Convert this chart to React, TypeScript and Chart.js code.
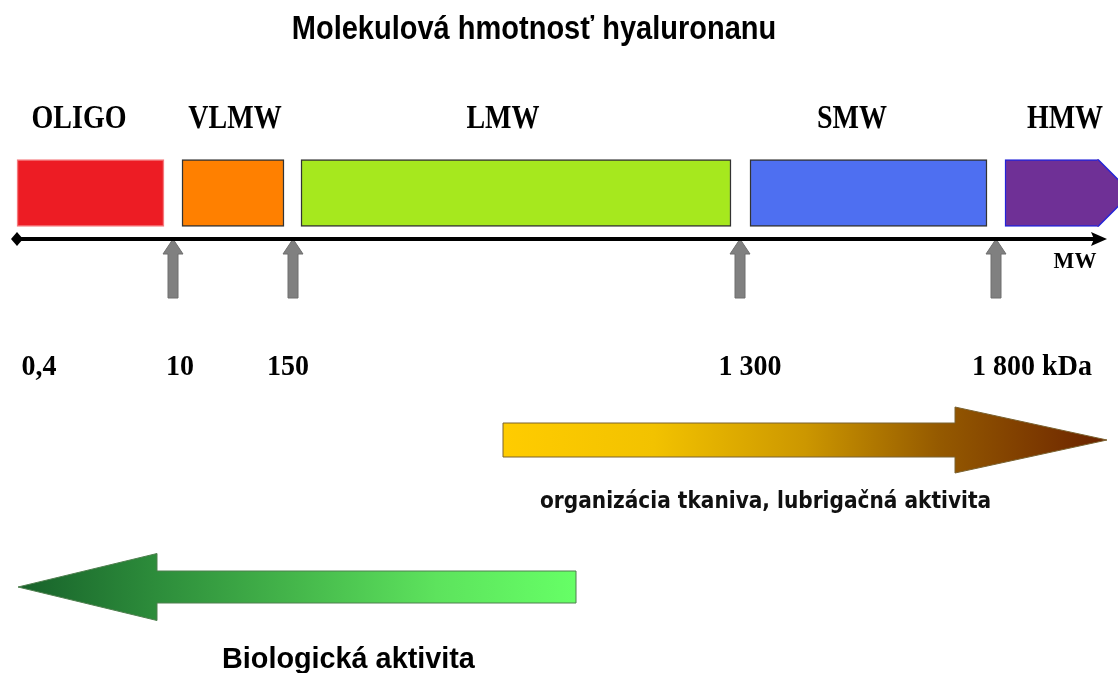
import React, { useEffect, useRef } from 'react';
import { Chart, registerables } from 'chart.js';

Chart.register(...registerables);

// ---- data ----
const TITLE = 'Molekulová hmotnosť hyaluronanu';
const classes = ['OLIGO', 'VLMW', 'LMW', 'SMW', 'HMW'];
const classStart = [17, 182, 301, 750, 1005];
const classEnd = [164, 284, 731, 987, 1098];
const classLabelAt = [79, 235, 503, 852, 1065];
const boundaries = [17, 173, 293, 740, 996];
const boundaryLabels = ['0,4', '10', '150', '1 300', '1 800 kDa'];
const boundaryLabelAt = [39, 180, 288, 750, 1032];
const AXIS_LABEL = 'MW';
const trendLabels = ['organizácia tkaniva, lubrigačná aktivita', 'Biologická aktivita'];
const trendFrom = [503, 576];
const trendTo = [1107, 18];
const trendHeadLen = [152, 139];
const trendRow = [440, 587];
const trendLabelAt = [540, 222];
const trendLabelRow = [508, 668];

// ---- layout / style ----
const W = 1118;
const H = 673;
const BAR_ROW = 193;
const AXIS_ROW = 239;
const classColors = ['#ED1C24', '#FF8000', '#A6E81E', '#4E6FF1', '#6F3096'];
const classBorders = ['#F47A7E', '#333333', '#333333', '#333333', '#2323D8'];

function drawText(ctx: CanvasRenderingContext2D, s: string, px: number, py: number, font: string, align: CanvasTextAlign, sy: number, color = '#000') {
  ctx.save();
  ctx.font = font;
  ctx.textAlign = align;
  ctx.textBaseline = 'alphabetic';
  ctx.fillStyle = color;
  ctx.translate(px, py);
  ctx.scale(1, sy);
  ctx.fillText(s, 0, 0);
  ctx.restore();
}

function trendArrow(ctx: CanvasRenderingContext2D, x0: number, x1: number, cy: number, headLen: number, shaftHalf: number, headHalf: number, stops: [number, string][], stroke: string) {
  const dir = x1 > x0 ? 1 : -1;
  const hb = x1 - dir * headLen;
  const g = ctx.createLinearGradient(Math.min(x0, x1), 0, Math.max(x0, x1), 0);
  stops.forEach(([o, c]) => g.addColorStop(o, c));
  ctx.save();
  ctx.beginPath();
  ctx.moveTo(x0, cy - shaftHalf);
  ctx.lineTo(hb, cy - shaftHalf);
  ctx.lineTo(hb, cy - headHalf);
  ctx.lineTo(x1, cy);
  ctx.lineTo(hb, cy + headHalf);
  ctx.lineTo(hb, cy + shaftHalf);
  ctx.lineTo(x0, cy + shaftHalf);
  ctx.closePath();
  ctx.fillStyle = g;
  ctx.fill();
  ctx.lineWidth = 1;
  ctx.strokeStyle = stroke;
  ctx.stroke();
  ctx.restore();
}

const diagramPlugin = {
  id: 'diagram',
  afterDatasetsDraw(chart: any) {
    const ctx: CanvasRenderingContext2D = chart.ctx;
    const xs = chart.scales.x;
    const ys = chart.scales.y;
    const X = (v: number) => xs.getPixelForValue(v);
    const Y = (v: number) => ys.getPixelForValue(v);

    // HMW arrow tip
    const el = chart.getDatasetMeta(0).data[4];
    if (el) {
      const half = el.height / 2;
      ctx.save();
      ctx.beginPath();
      ctx.moveTo(el.x - 1, el.y - half);
      ctx.lineTo(el.x, el.y - half);
      ctx.lineTo(el.x + half, el.y);
      ctx.lineTo(el.x, el.y + half);
      ctx.lineTo(el.x - 1, el.y + half);
      ctx.closePath();
      ctx.fillStyle = classColors[4];
      ctx.fill();
      ctx.beginPath();
      ctx.moveTo(el.x, el.y - half);
      ctx.lineTo(el.x + half, el.y);
      ctx.lineTo(el.x, el.y + half);
      ctx.lineWidth = 1.5;
      ctx.strokeStyle = classBorders[4];
      ctx.stroke();
      ctx.restore();
    }

    // Title
    drawText(ctx, TITLE, X(534), Y(39), 'bold 29px "Liberation Sans", Arial, sans-serif', 'center', 1.16);

    // class labels
    classes.forEach((c, i) => {
      drawText(ctx, c, X(classLabelAt[i]), Y(128), 'bold 28px "Liberation Serif", "Times New Roman", serif', 'center', 1.18);
    });

    // gray up arrows at boundaries
    boundaries.forEach((b, i) => {
      if (i === 0) return;
      const cx = X(b);
      const top = Y(AXIS_ROW);
      ctx.save();
      ctx.beginPath();
      ctx.moveTo(cx, top);
      ctx.lineTo(cx + 10, top + 15);
      ctx.lineTo(cx + 5, top + 15);
      ctx.lineTo(cx + 5, Y(298));
      ctx.lineTo(cx - 5, Y(298));
      ctx.lineTo(cx - 5, top + 15);
      ctx.lineTo(cx - 10, top + 15);
      ctx.closePath();
      ctx.fillStyle = '#808080';
      ctx.fill();
      ctx.lineWidth = 1;
      ctx.strokeStyle = '#6E6E6E';
      ctx.stroke();
      ctx.restore();
    });

    // MW axis line
    const ay = Y(AXIS_ROW);
    ctx.save();
    ctx.fillStyle = '#000';
    ctx.strokeStyle = '#000';
    ctx.lineWidth = 4;
    ctx.beginPath();
    ctx.moveTo(X(boundaries[0]), ay);
    ctx.lineTo(X(1095), ay);
    ctx.stroke();
    ctx.beginPath();
    ctx.moveTo(X(1107), ay);
    ctx.lineTo(X(1091), ay - 7);
    ctx.lineTo(X(1094), ay);
    ctx.lineTo(X(1091), ay + 7);
    ctx.closePath();
    ctx.fill();
    const dx = X(boundaries[0]);
    ctx.beginPath();
    ctx.moveTo(dx - 6, ay);
    ctx.lineTo(dx, ay - 7);
    ctx.lineTo(dx + 6, ay);
    ctx.lineTo(dx, ay + 7);
    ctx.closePath();
    ctx.fill();
    ctx.restore();

    drawText(ctx, AXIS_LABEL, X(1075), Y(268), 'bold 22px "Liberation Serif", "Times New Roman", serif', 'center', 1.05);

    // boundary value labels
    boundaryLabels.forEach((l, i) => {
      drawText(ctx, l, X(boundaryLabelAt[i]), Y(375), 'bold 28px "Liberation Serif", "Times New Roman", serif', 'center', 1.06);
    });

    // trend arrows
    trendArrow(ctx, X(trendFrom[0]), X(trendTo[0]), Y(trendRow[0]), trendHeadLen[0], 17, 33,
      [[0, '#FFCC00'], [0.25, '#F2C200'], [0.5, '#CC9700'], [0.72, '#955A00'], [1, '#6B2300']], '#7A6230');
    trendArrow(ctx, X(trendFrom[1]), X(trendTo[1]), Y(trendRow[1]), trendHeadLen[1], 16, 33.5,
      [[0, '#17612A'], [0.25, '#2D8D3B'], [0.5, '#45B74B'], [0.75, '#5DE35D'], [1, '#66FF66']], '#4F7F4F');

    drawText(ctx, trendLabels[0], X(trendLabelAt[0]), Y(trendLabelRow[0]), 'bold 22.4px "DejaVu Sans Condensed", "DejaVu Sans", sans-serif', 'left', 1.0, '#111');
    drawText(ctx, trendLabels[1], X(trendLabelAt[1]), Y(trendLabelRow[1]), 'bold 28.8px "Liberation Sans", Arial, sans-serif', 'left', 1.0);
  },
};

export default function App() {
  const canvasRef = useRef<HTMLCanvasElement | null>(null);

  useEffect(() => {
    const canvas = canvasRef.current;
    if (!canvas) return;
    const chart = new Chart(canvas, {
      type: 'bar',
      data: {
        datasets: [
          {
            label: 'Molekulová hmotnosť',
            data: classes.map((c, i) => ({ x: [classStart[i], classEnd[i]], y: BAR_ROW })) as any,
            backgroundColor: classColors,
            borderColor: classBorders,
            borderWidth: 1.5,
            borderSkipped: ((c: any) => (c.dataIndex === 4 ? 'right' : false)) as any,
            barThickness: 67,
          },
        ],
      },
      options: {
        indexAxis: 'y',
        responsive: false,
        animation: false,
        events: [],
        layout: { padding: 0 },
        plugins: {
          legend: { display: false },
          tooltip: { enabled: false },
          title: { display: false },
        },
        scales: {
          x: { type: 'linear', min: 0, max: W, display: false, offset: false },
          y: { type: 'linear', min: 0, max: H, reverse: true, display: false, offset: false },
        },
      },
      plugins: [diagramPlugin],
    });
    const fonts = (document as any).fonts;
    if (fonts && fonts.load) {
      Promise.all([
        fonts.load('bold 28px "Liberation Serif"'),
        fonts.load('bold 28px "Liberation Sans"'),
        fonts.load('bold 20px "DejaVu Sans Condensed"'),
      ]).then(() => chart.draw()).catch(() => {});
    }
    return () => chart.destroy();
  }, []);

  return (
    <div style={{ position: 'absolute', left: 0, top: 0, width: W, height: H, background: '#fff' }}>
      <canvas ref={canvasRef} width={W} height={H} style={{ display: 'block', width: W, height: H }} />
    </div>
  );
}
